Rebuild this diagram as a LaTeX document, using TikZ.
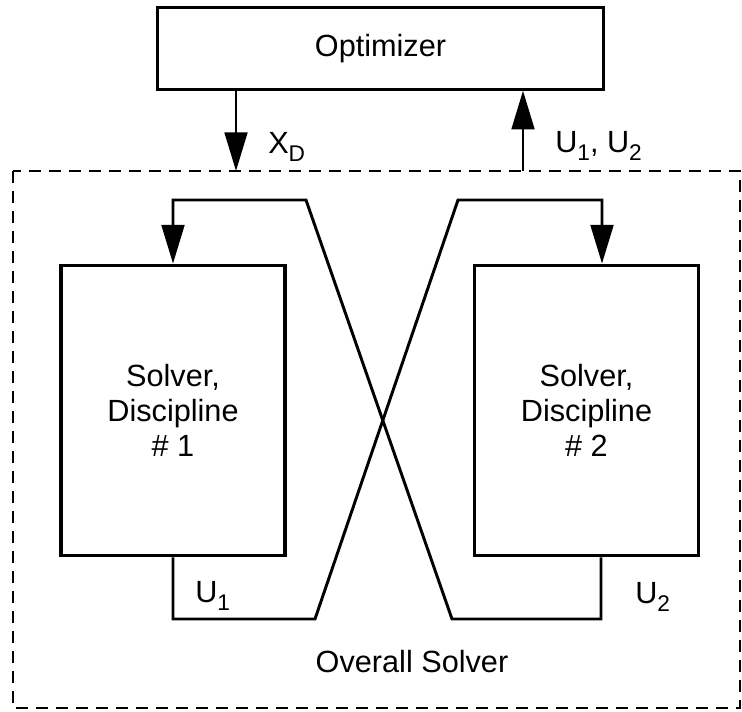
\documentclass[tikz,border=0pt]{standalone}
\usepackage{fontspec}
\setmainfont{Liberation Sans}
\usetikzlibrary{arrows.meta,positioning}
\newcommand{\lowsub}[1]{\raisebox{-.55ex}{\fontsize{17}{17}\selectfont #1}}

\begin{document}
\begin{tikzpicture}[x=.75pt,y=-.75pt,
  box/.style={draw,line width=2.3pt,inner sep=0pt,align=center},
  flow/.style={line width=2.2pt},
  tip/.style={-{Triangle[length=29pt,width=17pt]}},
  lbl/.style={inner sep=0pt},
  font=\fontsize{23}{26}\selectfont]
  \useasboundingbox (0,0) rectangle (742,711);
  % overall solver frame
  \draw[line width=1pt,dash pattern=on 9pt off 6pt] (13,171) rectangle (740,708);
  \node[lbl] at (412,662) (overall) {Overall Solver};
  \node[box,minimum width=335pt,minimum height=61pt] at (380.5,48.5) (opt) {Optimizer};
  \node[box,minimum width=168pt,minimum height=218pt] at (173,410.5) (s1) {Solver,\\Discipline\\\# 1};
  \node[box,minimum width=168pt,minimum height=218pt] at (586.5,410.5) (s2) {Solver,\\Discipline\\\# 2};
  \coordinate (xd) at (236,171);
  \coordinate (uu) at (523,171);
  \coordinate (c1) at (315,619);
  \coordinate (c2) at (458,200);
  \coordinate (c3) at (452,619);
  \coordinate (c4) at (306,200);
  \coordinate (c5) at (602,200);
  \coordinate (c6) at (601,619);
  \draw [flow,tip] (opt.south -| xd) -- (xd);
  \draw [flow,tip] (uu) -- (opt.south -| uu);
  \node[lbl,anchor=base west] at (268,153) (lxd) {X\lowsub{D}};
  \node[lbl,anchor=base west] at (555,152) (lu) {U\lowsub{1}, U\lowsub{2}};
  % cross coupling
  \draw [flow,tip] (s1.south) |- (c1) -- (c2) -- (c5) -- (s2.north -| c5);
  \draw [flow,tip] (s2.south -| c6) -- (c6) -- (c3) -- (c4) -| (s1.north);
  \node[lbl,anchor=base west] at (195,602) (lu1) {U\lowsub{1}};
  \node[lbl,anchor=base west] at (635,603) (lu2) {U\lowsub{2}};
\end{tikzpicture}
\end{document}
